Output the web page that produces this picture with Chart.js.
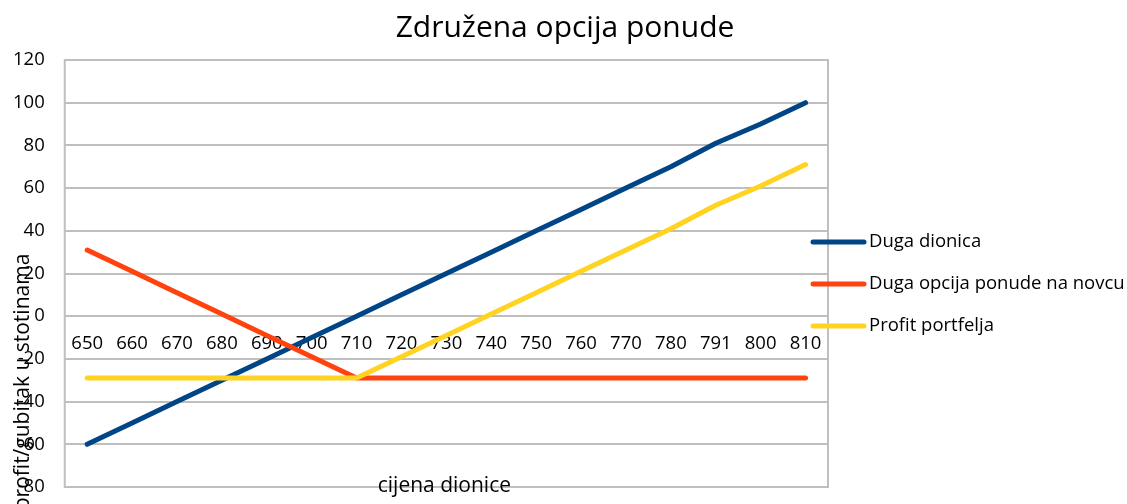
<!DOCTYPE html>
<html>
<head>
<meta charset="utf-8">
<script src="https://cdn.jsdelivr.net/npm/chart.js@4/dist/chart.umd.min.js"></script>
<style>
  html, body { margin: 0; padding: 0; background: #fff; }
  #wrap { width: 1127px; height: 504px; }
</style>
</head>
<body>
<div id="wrap"><canvas id="grafikon"></canvas></div>
<script>
// cijene dionice (kategorije na osi x)
const kategorije = ['650', '660', '670', '680', '690', '700', '710', '720', '730', '740', '750', '760', '770', '780', '791', '800', '810'];

// profit/gubitak u stotinama za svaku poziciju
const dugaDionica = [-60, -50, -40, -30, -20, -10, 0, 10, 20, 30, 40, 50, 60, 70, 81, 90, 100];
const dugaOpcija  = [31, 21, 11, 1, -9, -19, -29, -29, -29, -29, -29, -29, -29, -29, -29, -29, -29];
const profitPortfelja = [-29, -29, -29, -29, -29, -29, -29, -19, -9, 1, 11, 21, 31, 41, 52, 61, 71];

const yOznake = [-80, -60, -40, -20, 0, 20, 40, 60, 80, 100, 120];

const FONT = "'Open Sans', 'Noto Sans', sans-serif";
const SIVA = '#bfbfbf';

// okvir oko podrucja grafa, naslovi i legenda desno
const dodaci = {
    id: 'dodaci',
    beforeDatasetsDraw(chart) {
        const { ctx, chartArea: a } = chart;
        ctx.save();
        ctx.strokeStyle = SIVA;
        ctx.lineWidth = 2;
        ctx.strokeRect(a.left, a.top, a.right - a.left, a.bottom - a.top);
        ctx.restore();
    },
    afterDraw(chart) {
        const { ctx, chartArea: a } = chart;
        ctx.save();
        ctx.fillStyle = '#000';
        ctx.textAlign = 'center';

        ctx.font = '30px ' + FONT;
        ctx.textBaseline = 'alphabetic';
        ctx.fillText('Združena opcija ponude', 565, 37);

        ctx.font = '21px ' + FONT;
        ctx.textBaseline = 'middle';
        ctx.fillText('cijena dionice', (a.left + a.right) / 2 - 2, a.bottom - 1);

        ctx.translate(23, 382);
        ctx.rotate(-Math.PI / 2);
        ctx.fillText('profit/gubitak u stotinama', 0, 0);
        ctx.restore();

        // legenda
        ctx.save();
        ctx.font = '18.5px ' + FONT;
        ctx.textAlign = 'left';
        ctx.textBaseline = 'middle';
        chart.data.datasets.forEach((ds, i) => {
            const y = 242 + i * 42;
            ctx.strokeStyle = ds.borderColor;
            ctx.lineWidth = 5;
            ctx.lineCap = 'round';
            ctx.beginPath();
            ctx.moveTo(813, y);
            ctx.lineTo(864, y);
            ctx.stroke();
            ctx.fillStyle = '#000';
            ctx.fillText(ds.label, 869, y);
        });
        ctx.restore();
    }
};

new Chart(document.getElementById('grafikon'), {
    type: 'line',
    data: {
        labels: kategorije,
        datasets: [
            { label: 'Duga dionica', data: dugaDionica, borderColor: '#004586', order: 3 },
            { label: 'Duga opcija ponude na novcu', data: dugaOpcija, borderColor: '#ff420e', order: 2 },
            { label: 'Profit portfelja', data: profitPortfelja, borderColor: '#ffd320', order: 1 }
        ]
    },
    options: {
        responsive: true,
        maintainAspectRatio: false,
        animation: false,
        datasets: {
            line: {
                borderWidth: 5,
                pointRadius: 0,
                tension: 0,
                borderCapStyle: 'round',
                borderJoinStyle: 'round'
            }
        },
        layout: { padding: { left: -7, right: 299, bottom: 17, top: 60 } },
        plugins: {
            legend: { display: false },
            tooltip: { enabled: false },
            title: { display: false }
        },
        scales: {
            x: {
                position: { y: 0 },
                offset: true,
                grid: { display: false, drawTicks: false },
                border: { display: false },
                ticks: {
                    autoSkip: false,
                    maxRotation: 0,
                    padding: 16,
                    color: '#000',
                    font: { family: FONT, size: 18.5 }
                }
            },
            y: {
                min: -80,
                max: 120,
                afterBuildTicks(scale) {
                    scale.ticks = yOznake.map(v => ({ value: v }));
                },
                // oznake smiju izaci iz podrucja, bez dodatnog razmaka gore/dolje
                afterFit(scale) {
                    scale.paddingTop = 0;
                    scale.paddingBottom = 0;
                },
                grid: { color: SIVA, lineWidth: 2, drawTicks: false },
                border: { display: false },
                ticks: {
                    padding: 20,
                    color: '#000',
                    font: { family: FONT, size: 18.5 }
                }
            }
        }
    },
    plugins: [dodaci]
});
</script>
</body>
</html>
